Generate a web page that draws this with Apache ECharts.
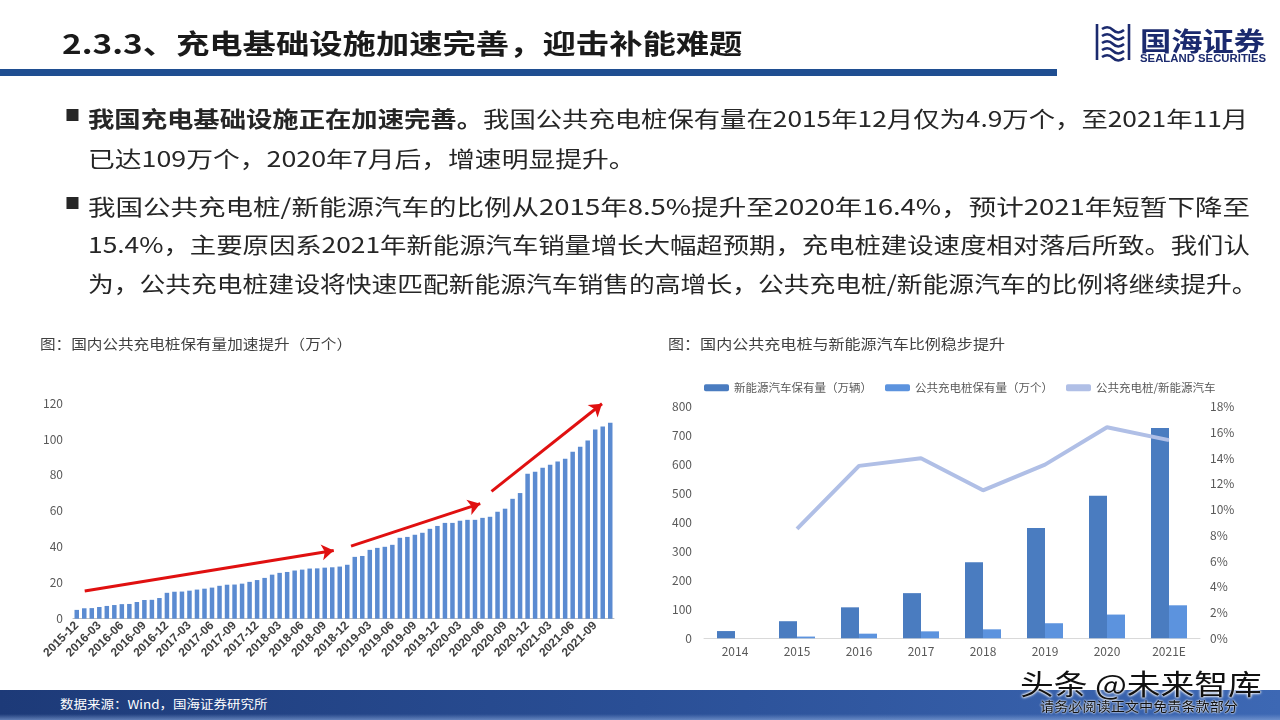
<!DOCTYPE html>
<html><head><meta charset="utf-8">
<script src="https://cdn.jsdelivr.net/npm/echarts@6/dist/echarts.min.js"></script>
<style>
html,body{margin:0;padding:0;background:#fff;}
#page{position:relative;width:1280px;height:720px;overflow:hidden;font-family:"Noto Sans CJK SC","Noto Sans",sans-serif;background:#fff;}
.t{position:absolute;white-space:nowrap;transform-origin:0 50%;line-height:1.15;}
#chart{position:absolute;left:0;top:0;width:1280px;height:720px;}
</style></head>
<body><div id="page">
<div id="chart"></div>
<div class="t fit" data-x="62" data-y="42" data-w="680" style="font-size:27px;font-weight:bold;color:#1a1a1a">2.3.3、充电基础设施加速完善，迎击补能难题</div>
<div style="position:absolute;left:0;top:69px;width:1057px;height:7px;background:#1f4e91"></div>

<svg style="position:absolute;left:1094px;top:21px" width="38" height="42" viewBox="0 0 38 42">
  <g fill="none" stroke="#1b2a6e" stroke-width="2.6">
    <path d="M3 3 V39"/><path d="M35 3 V39"/>
    <path d="M8 8 Q14 4 19 9 T30 9"/>
    <path d="M8 15 Q14 11 19 16 T30 16"/>
    <path d="M8 22 Q14 18 19 23 T30 23"/>
    <path d="M8 29 Q14 25 19 30 T30 30"/>
    <path d="M8 36 Q14 32 19 37 T30 37"/>
  </g>
</svg>
<div class="t fit" data-x="1140" data-y="40" data-w="125" style="font-size:26px;font-weight:bold;color:#1b2a6e">国海证券</div>
<div class="t fit" data-x="1140" data-y="59" data-w="126" style="font-size:10px;font-weight:bold;color:#1b2a6e;font-family:'Liberation Sans',Arial,sans-serif">SEALAND SECURITIES</div>

<div class="t" style="left:65px;top:106px;font-size:15px;color:#262626">■</div>
<div class="t fit" data-x="88" data-y="117" data-w="1160" id="l1" style="font-size:22px;color:#262626"><b>我国充电基础设施正在加速完善。</b>我国公共充电桩保有量在2015年12月仅为4.9万个，至2021年11月</div>
<div class="t fit" data-x="88" data-y="157" data-w="548" style="font-size:22px;color:#262626">已达109万个，2020年7月后，增速明显提升。</div>
<div class="t" style="left:65px;top:194px;font-size:15px;color:#262626">■</div>
<div class="t fit" data-x="88" data-y="205" data-w="1162" style="font-size:22px;color:#262626">我国公共充电桩/新能源汽车的比例从2015年8.5%提升至2020年16.4%，预计2021年短暂下降至</div>
<div class="t fit" data-x="88" data-y="243" data-w="1162" style="font-size:22px;color:#262626">15.4%，主要原因系2021年新能源汽车销量增长大幅超预期，充电桩建设速度相对落后所致。我们认</div>
<div class="t fit" data-x="88" data-y="282" data-w="1170" style="font-size:22px;color:#262626">为，公共充电桩建设将快速匹配新能源汽车销售的高增长，公共充电桩/新能源汽车的比例将继续提升。</div>

<div class="t fit" data-x="40" data-y="343" data-w="312" style="font-size:14px;color:#404040">图：国内公共充电桩保有量加速提升（万个）</div>
<div class="t fit" data-x="668" data-y="343" data-w="337" style="font-size:14px;color:#404040">图：国内公共充电桩与新能源汽车比例稳步提升</div>

<div style="position:absolute;left:0;top:690px;width:1280px;height:30px;background:linear-gradient(180deg,rgba(255,255,255,0) 0,rgba(255,255,255,0) 80%,rgba(140,170,220,0.6) 100%),linear-gradient(90deg,#1d3a78 0%,#2a4f96 50%,#3d68b4 100%)"></div>
<div class="t fit" data-x="60" data-y="704" data-w="208" style="font-size:12px;color:#fff">数据来源：Wind，国海证券研究所</div>
<div class="t fit" data-x="1020" data-y="683" data-w="242" style="font-size:28px;color:#111;text-shadow:0 0 2px #fff,0 0 2px #fff,0 0 3px #fff">头条 @未来智库</div>
<div class="t fit" data-x="1040" data-y="706" data-w="198" style="font-size:13px;color:#111;text-shadow:0 0 2px #fff,0 0 2px #fff">请务必阅读正文中免责条款部分</div>
</div>
<script>
// ---- Left chart data: public charging piles (万个), monthly
const months = ['2015-12','2016-01','2016-02','2016-03','2016-04','2016-05','2016-06','2016-07','2016-08','2016-09','2016-10','2016-11',
 '2016-12','2017-01','2017-02','2017-03','2017-04','2017-05','2017-06','2017-07','2017-08','2017-09','2017-10','2017-11',
 '2017-12','2018-01','2018-02','2018-03','2018-04','2018-05','2018-06','2018-07','2018-08','2018-09','2018-10','2018-11',
 '2018-12','2019-01','2019-02','2019-03','2019-04','2019-05','2019-06','2019-07','2019-08','2019-09','2019-10','2019-11',
 '2019-12','2020-01','2020-02','2020-03','2020-04','2020-05','2020-06','2020-07','2020-08','2020-09','2020-10','2020-11',
 '2020-12','2021-01','2021-02','2021-03','2021-04','2021-05','2021-06','2021-07','2021-08','2021-09','2021-10','2021-11'];
const pileStock = [4.9,5.8,5.9,6.5,7.1,7.6,8.1,8.2,9.3,10.4,10.5,11.5,
 14.4,15.0,15.1,15.6,16.2,16.7,17.3,18.3,18.9,19.0,19.5,20.5,
 21.5,22.7,24.5,25.5,26.0,26.8,27.3,27.9,28.0,28.4,28.6,29.0,
 30.0,34.4,34.9,38.3,39.4,40.0,41.1,45.0,45.5,46.7,47.8,50.0,
 51.6,53.3,53.3,54.5,55.0,55.0,56.1,56.7,59.5,61.2,66.7,69.9,
 80.7,81.8,84.0,85.7,87.4,89.0,92.9,95.7,99.1,105.2,106.9,109.0];
const leftTicks = [0,20,40,60,80,100,120];
// trend arrows (in data space: month index, value)
const arrowStarts = [[1.06,15.4],[36.5,40.4],[55.2,70.8]];
const arrowEnds = [[34.2,38.0],[53.7,64.0],[69.9,119.6]];

// ---- Right chart data
const years = ['2014','2015','2016','2017','2018','2019','2020','2021E'];
const nevStock = [25,59,107,156,263,381,492,726];
const pileYear = [null,6,16,24,31,52,82,114];
const ratioPct = [null,8.5,13.4,14.0,11.5,13.5,16.4,15.4];
const seriesNames = ['新能源汽车保有量（万辆）','公共充电桩保有量（万个）','公共充电桩/新能源汽车'];

function fitTexts(){
  document.querySelectorAll('.fit').forEach(el=>{
    el.style.transform='none';
    const x=+el.dataset.x, y=+el.dataset.y, w=+el.dataset.w;
    const ow=el.offsetWidth, oh=el.offsetHeight;
    el.style.left=x+'px';
    el.style.top=(y-oh/2)+'px';
    el.style.transform='scaleX('+(w/ow)+')';
  });
}
fitTexts();

const chart = echarts.init(document.getElementById('chart'), null, {renderer:'canvas'});
const font = '"Noto Sans CJK SC","Noto Sans",sans-serif';
const option = {
  animation:false,
  textStyle:{fontFamily:font},
  grid:[
    {left:73, top:403, width:541, height:215.7},
    {left:704, top:406.7, width:496, height:231.6}
  ],
  legend:{
    data:[{name:seriesNames[0]},{name:seriesNames[1]},{name:seriesNames[2],icon:'roundRect',itemStyle:{color:'#b0bfe6'}}],
    left:699, top:377, itemWidth:25, itemHeight:7, itemGap:13,
    textStyle:{fontSize:11.5,color:'#595959',fontFamily:font}
  },
  xAxis:[
    {type:'category', gridIndex:0, data:months,
     axisLine:{lineStyle:{color:'#bfbfbf'}},
     axisTick:{interval:2,length:4,lineStyle:{color:'#bfbfbf'}},
     axisLabel:{interval:2,rotate:45,fontSize:12,fontWeight:'bold',color:'#404040',margin:5,fontFamily:'"Liberation Sans",Arial,sans-serif'}},
    {type:'value', gridIndex:0, min:-0.5, max:71.5, show:false},
    {type:'category', gridIndex:1, data:years,
     axisLine:{lineStyle:{color:'#d9d9d9'}}, axisTick:{show:false},
     axisLabel:{fontSize:12,color:'#595959',margin:7}}
  ],
  yAxis:[
    {type:'value', gridIndex:0, min:leftTicks[0], max:leftTicks[leftTicks.length-1], interval:20,
     splitLine:{show:false}, axisLine:{show:false}, axisTick:{show:false},
     axisLabel:{fontSize:12,color:'#595959',margin:10}},
    {type:'value', gridIndex:1, min:0, max:800, interval:100,
     splitLine:{show:false}, axisLine:{show:false}, axisTick:{show:false},
     axisLabel:{fontSize:12,color:'#595959',margin:12}},
    {type:'value', gridIndex:1, position:'right', min:0, max:18, interval:2,
     splitLine:{show:false}, axisLine:{show:false}, axisTick:{show:false},
     axisLabel:{fontSize:12,color:'#595959',margin:10,formatter:'{value}%'}}
  ],
  series:[
    {type:'bar', xAxisIndex:0, yAxisIndex:0, data:pileStock, barWidth:4.5,
     itemStyle:{color:'#5b8bd1'}},
    {type:'scatter', xAxisIndex:1, yAxisIndex:0, data:[], silent:true,
     markLine:{silent:true, symbol:['none','arrow'], symbolSize:12,
       label:{show:false},
       lineStyle:{color:'#e01010',width:3,type:'solid'},
       data:arrowStarts.map((s,i)=>[{coord:s},{coord:arrowEnds[i]}])}},
    {name:seriesNames[0], type:'bar', xAxisIndex:2, yAxisIndex:1, data:nevStock,
     barWidth:18, barGap:'0%', itemStyle:{color:'#4a7cc0'}},
    {name:seriesNames[1], type:'bar', xAxisIndex:2, yAxisIndex:1, data:pileYear,
     barWidth:18, barGap:'0%', itemStyle:{color:'#5c93de'}},
    {name:seriesNames[2], type:'line', xAxisIndex:2, yAxisIndex:2, data:ratioPct,
     symbol:'none', lineStyle:{color:'#b0bfe6',width:4}, itemStyle:{color:'#b0bfe6'}}
  ]
};
chart.setOption(option);
window.addEventListener('load', fitTexts);
</script>
</body></html>
